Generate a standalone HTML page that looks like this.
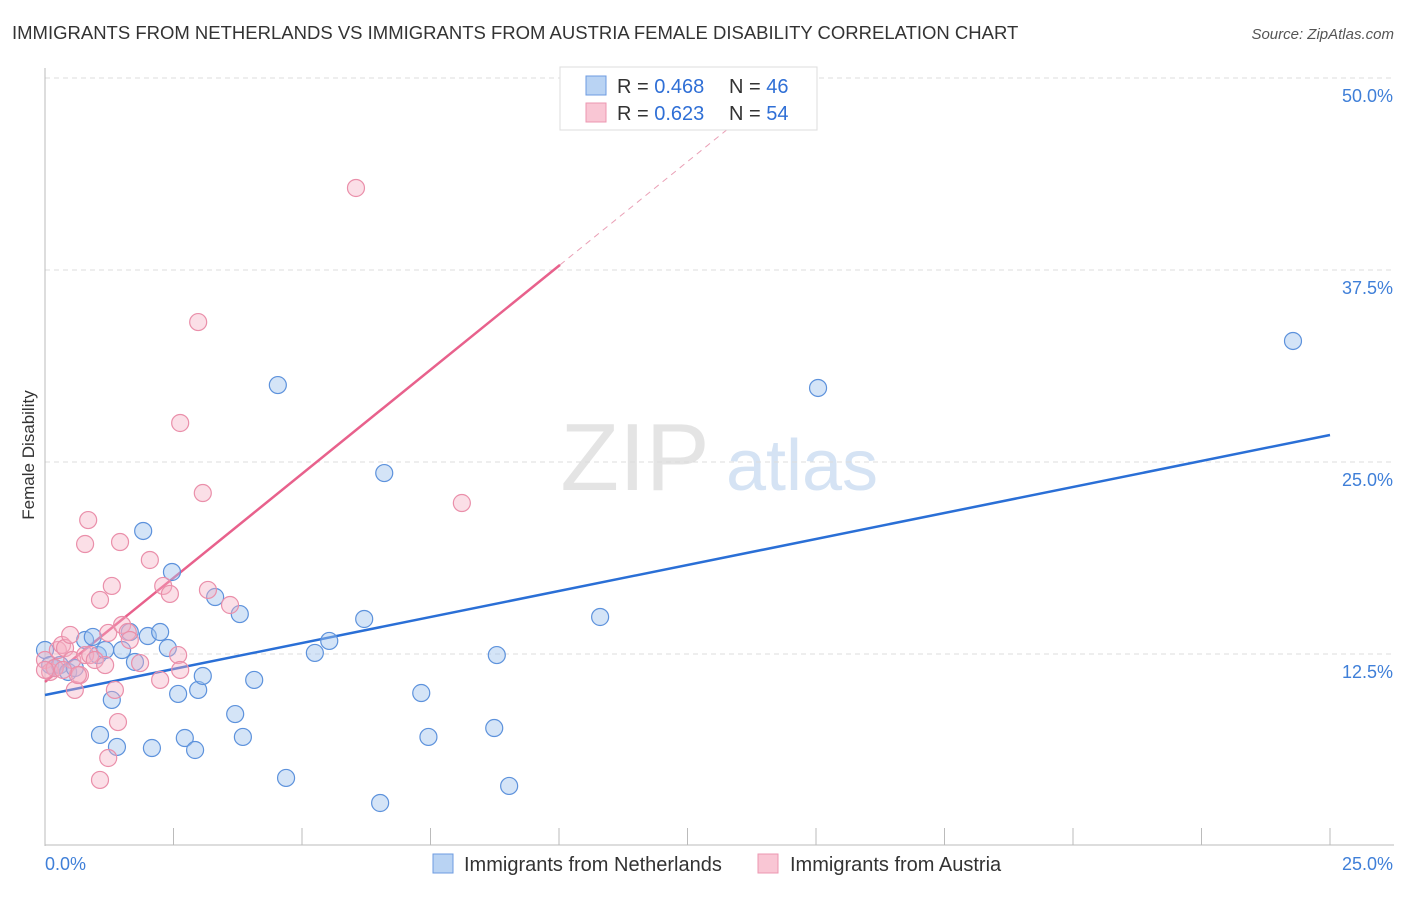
<!DOCTYPE html>
<html><head><meta charset="utf-8"><style>
body{margin:0;background:#fff;font-family:"Liberation Sans",sans-serif;}
svg text{font-family:"Liberation Sans",sans-serif;}
</style></head><body>
<svg id="chart" width="1406" height="892" viewBox="0 0 1406 892">
<text x="12" y="39" font-size="18.5" fill="#333">IMMIGRANTS FROM NETHERLANDS VS IMMIGRANTS FROM AUSTRIA FEMALE DISABILITY CORRELATION CHART</text>
<text x="1394" y="39" font-size="15" fill="#555" text-anchor="end" font-style="italic">Source: ZipAtlas.com</text>
<text transform="translate(34,455) rotate(-90)" font-size="17" fill="#333" text-anchor="middle">Female Disability</text>
<g>
<text x="635" y="490" font-size="96" fill="#e4e4e4" font-family="Liberation Serif,serif" text-anchor="middle">ZIP</text>
<text x="802" y="490" font-size="72" fill="#d5e3f4" text-anchor="middle">atlas</text>
</g>
<g id="grid"></g>
<g id="axes"></g>
<g id="lines"></g>
<g id="pts"></g>
<g>
<rect x="560" y="67" width="257" height="63" fill="#fff" stroke="#ddd"/>
<rect x="586" y="76" width="20" height="19" fill="#b9d3f3" stroke="#6d9be0"/>
<rect x="586" y="103" width="20" height="19" fill="#f9c6d4" stroke="#ec97b1"/>
<text x="617" y="93" font-size="20" fill="#333">R = <tspan fill="#2f6fd6">0.468</tspan></text>
<text x="729" y="93" font-size="20" fill="#333">N = <tspan fill="#2f6fd6">46</tspan></text>
<text x="617" y="120" font-size="20" fill="#333">R = <tspan fill="#2f6fd6">0.623</tspan></text>
<text x="729" y="120" font-size="20" fill="#333">N = <tspan fill="#2f6fd6">54</tspan></text>
</g>
<g>
<rect x="433" y="854" width="20" height="19" fill="#b9d3f3" stroke="#6d9be0"/>
<text x="464" y="871" font-size="20" fill="#333">Immigrants from Netherlands</text>
<rect x="758" y="854" width="20" height="19" fill="#f9c6d4" stroke="#ec97b1"/>
<text x="790" y="871" font-size="20" fill="#333">Immigrants from Austria</text>
</g>
</svg>
<script>
const yTicks=[12.5,25,37.5,50];
const yTickLabels=["12.5%","25.0%","37.5%","50.0%"];
const xTicks=[0,2.5,5,7.5,10,12.5,15,17.5,20,22.5,25];
const xEndLabels=["0.0%","25.0%"];
const blueX=[0,.10,.19,.29,.45,.58,.78,.93,1.03,1.17,1.30,1.07,1.40,1.50,1.65,1.75,1.91,2.00,2.08,2.24,2.39,2.47,2.59,2.72,2.92,2.98,3.07,3.31,3.70,3.79,3.85,4.07,4.53,4.69,5.25,5.53,6.21,6.52,6.60,7.32,7.46,8.79,8.74,9.03,10.80,15.04,24.28];
const blueY=[12.76,11.78,11.59,11.78,11.33,11.59,13.41,13.61,12.43,12.76,9.51,7.23,6.45,12.76,13.93,11.98,20.51,13.67,6.38,13.93,12.89,17.84,9.90,7.03,6.25,10.16,11.07,16.21,8.59,15.10,7.10,10.81,30.01,4.43,12.57,13.35,14.78,2.80,24.28,9.96,7.10,12.43,7.68,3.91,14.91,29.82,32.88];
const pinkX=[0,.10,.19,.25,.33,.39,.49,.53,.58,.68,.78,.84,.78,.88,.97,1.07,1.17,1.23,1.30,1.36,1.42,1.46,1.07,1.23,1.50,1.61,1.65,1.85,2.04,2.24,2.30,2.43,2.59,2.63,2.63,2.98,3.07,3.17,3.60,6.05,8.11,.64,.35,0];
const pinkY=[12.11,11.33,11.59,12.76,13.09,12.89,13.74,12.11,10.16,11.13,12.43,21.22,19.66,12.43,12.11,16.02,11.78,13.87,16.93,10.16,8.07,19.79,4.30,5.73,14.39,13.93,13.41,11.91,18.62,10.81,16.93,16.41,12.43,11.46,27.54,34.11,22.98,16.67,15.69,42.84,22.33,11.13,11.46,11.46];
const blueTrend=[9.83,26.76]; // y at x=0 and x=25
const pinkTrend=[10.68,2.71]; // intercept, slope
const NS="http://www.w3.org/2000/svg";
const sx=v=>45+v*51.4, sy=v=>846-v*15.36;
function mk(t,a,p){const e=document.createElementNS(NS,t);for(const k in a)e.setAttribute(k,a[k]);document.getElementById(p).appendChild(e);return e;}
yTicks.forEach((v,i)=>{
 const l=mk('line',{x1:45,x2:1394,y1:sy(v),y2:sy(v),stroke:'#ddd','stroke-dasharray':'5,4'},'grid');
 
 
 const t=mk('text',{x:1393,y:sy(v)+24,'font-size':18,fill:'#3f7fd8','text-anchor':'end'},'axes');t.textContent=yTickLabels[i];
 
 
});
const ax=mk('line',{x1:45,x2:45,y1:68,y2:846,stroke:'#bbb'},'axes');


const bx=mk('line',{x1:45,x2:1394,y1:845,y2:845,stroke:'#bbb'},'axes');


xTicks.forEach(v=>{const l=mk('line',{x1:sx(v),x2:sx(v),y1:828,y2:845,stroke:'#bbb'},'axes');
 
 });
const t0=mk('text',{x:45,y:870,'font-size':18,fill:'#3f7fd8'},'axes');t0.textContent=xEndLabels[0];


const t1=mk('text',{x:1393,y:870,'font-size':18,fill:'#3f7fd8','text-anchor':'end'},'axes');t1.textContent=xEndLabels[1];


blueX.forEach((x,i)=>{const c=mk('circle',{cx:sx(x),cy:sy(blueY[i]),r:8.5,fill:'rgba(160,195,238,0.45)',stroke:'#5d92dc','stroke-width':1.2},'pts');
 
 });
pinkX.forEach((x,i)=>{const c=mk('circle',{cx:sx(x),cy:sy(pinkY[i]),r:8.5,fill:'rgba(245,175,195,0.4)',stroke:'#ea8faa','stroke-width':1.2},'pts');
 
 });
const bl=mk('line',{x1:sx(0),y1:sy(blueTrend[0]),x2:sx(25),y2:sy(blueTrend[1]),stroke:'#2a6fd6','stroke-width':2.5},'lines');


const pe=10.02, pd=13.4;
const pl=mk('line',{x1:sx(0),y1:sy(pinkTrend[0]),x2:sx(pe),y2:sy(pinkTrend[0]+pinkTrend[1]*pe),stroke:'#e8618c','stroke-width':2.5},'lines');


const pdl=mk('line',{x1:sx(pe),y1:sy(pinkTrend[0]+pinkTrend[1]*pe),x2:sx(pd),y2:sy(pinkTrend[0]+pinkTrend[1]*pd),stroke:'#eaa0b6','stroke-width':1,'stroke-dasharray':'6,5'},'lines');


</script>
</body></html>
